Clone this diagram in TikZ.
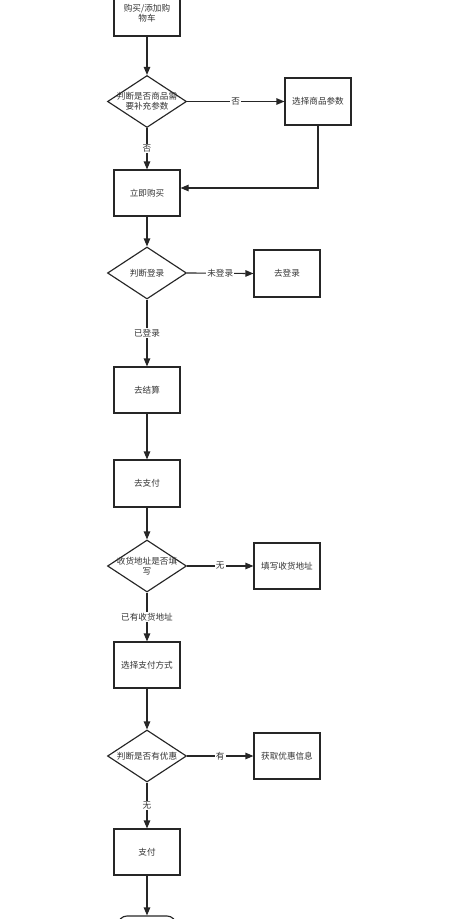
\documentclass[tikz,border=0pt]{standalone}
\usepackage{fontspec}
\newfontfamily\cjk{Noto Sans CJK SC}
\usetikzlibrary{shapes.geometric,arrows.meta}
\begin{document}
\begin{tikzpicture}[x=1pt,y=-1pt,
  font=\cjk\fontsize{8.6}{10}\selectfont,
  line width=1.15pt,
  boxnode/.style={draw=black!85, fill=white, minimum width=66pt, minimum height=46pt, inner sep=1pt, align=center, text=black!80},
  diam/.style={draw=black!85, fill=white, shape=diamond, minimum width=79pt, minimum height=52pt, inner sep=0pt},
  dtext/.style={align=center, text=black!80, inner sep=0pt},
  endnode/.style={draw=black!85, fill=white, rounded corners=9pt, minimum width=58pt, minimum height=30pt},
  lbl/.style={fill=white, inner sep=1pt, text=black!80},
  arr/.style={draw=black!85, -{Triangle[length=8pt,width=6.5pt]}}
]
\useasboundingbox (0,0) rectangle (463,919);

\node[boxnode] (b1) at (147,13) {购买/添加购\\物车};
\node[diam] (d1) at (147,101.5) {};
\node[dtext] (d1t) at (147,101.5) {判断是否商品需\\要补充参数};
\node[boxnode, minimum height=47pt] (p1) at (318,101.5) {选择商品参数};
\node[boxnode] (b2) at (147,193) {立即购买};
\node[diam] (d2) at (147,273) {};
\node[dtext] (d2t) at (147,273) {判断登录};
\node[boxnode, minimum height=47pt] (p2) at (287,273.5) {去登录};
\node[boxnode] (b3) at (147,390) {去结算};
\node[boxnode, minimum height=47pt] (b4) at (147,483.5) {去支付};
\node[diam] (d3) at (147,566) {};
\node[dtext] (d3t) at (147,566) {收货地址是否填\\写};
\node[boxnode] (p3) at (287,566) {填写收货地址};
\node[boxnode] (b5) at (147,665) {选择支付方式};
\node[diam] (d4) at (147,756) {};
\node[dtext] (d4t) at (147,756) {判断是否有优惠};
\node[boxnode] (p4) at (287,756) {获取优惠信息};
\node[boxnode] (b6) at (147,852) {支付};
\node[endnode] (e) at (147,931) {};

\draw[arr] (b1.south) -- (d1.north);
\draw[arr] (d1.east) -- node[lbl] (l1) {否} (p1.west);
\draw[arr] (d1.south) -- node[lbl] (l2) {否} (b2.north);
\draw[arr] (p1.south) |- ([yshift=5pt]b2.east);
\draw[arr] (b2.south) -- (d2.north);
\draw[arr] (d2.east) -- node[lbl] (l3) {未登录} (p2.west);
\draw[arr] (d2.south) -- node[lbl] (l4) {已登录} (b3.north);
\draw[arr] (b3.south) -- (b4.north);
\draw[arr] (b4.south) -- (d3.north);
\draw[arr] (d3.east) -- node[lbl] (l5) {无} (p3.west);
\draw[arr] (d3.south) -- node[lbl] (l6) {已有收货地址} (b5.north);
\draw[arr] (b5.south) -- (d4.north);
\draw[arr] (d4.east) -- node[lbl] (l7) {有} (p4.west);
\draw[arr] (d4.south) -- node[lbl] (l8) {无} (b6.north);
\draw[arr] (b6.south) -- (e.north);
\end{tikzpicture}
\end{document}
